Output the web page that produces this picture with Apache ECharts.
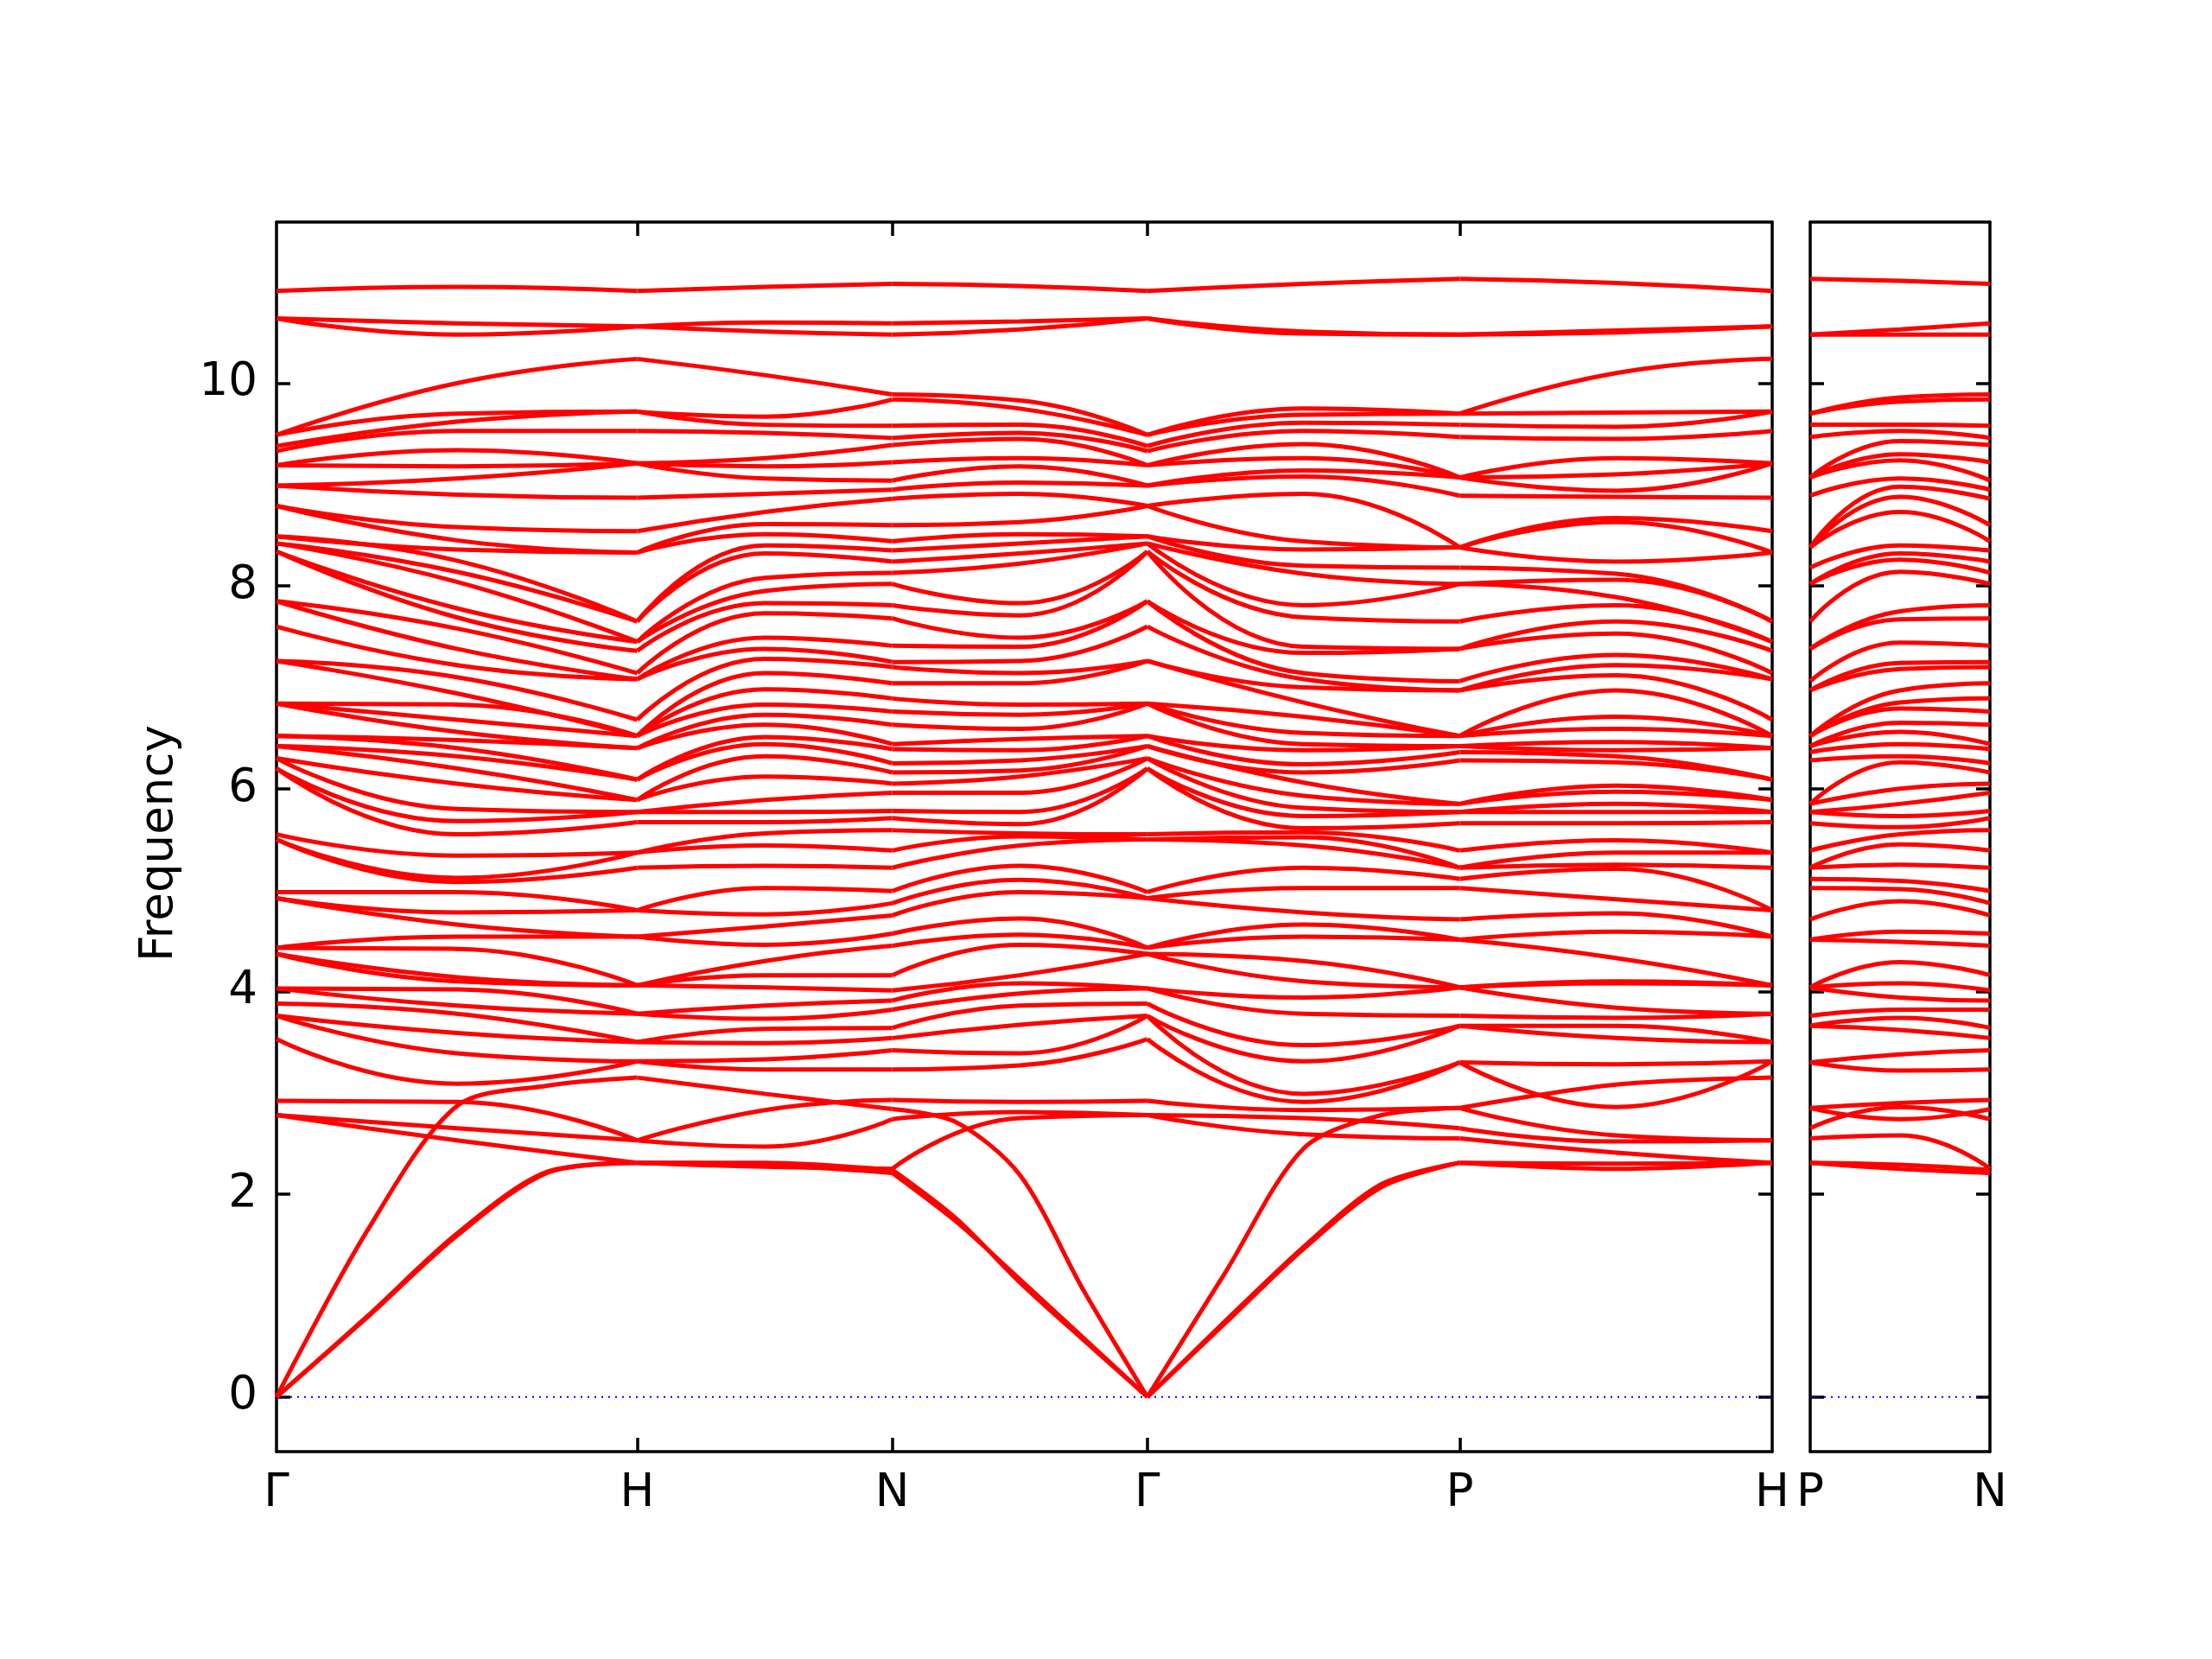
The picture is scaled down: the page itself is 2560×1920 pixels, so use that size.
<!DOCTYPE html>
<html><head><meta charset="utf-8">
<script src="https://cdn.jsdelivr.net/npm/echarts@6/dist/echarts.min.js"></script>
<style>html,body{margin:0;padding:0;background:#fff}#c{width:2560px;height:1920px}</style>
</head><body><div id="c"></div>
<script>
// ---- k-path positions (cumulative distance, bcc path) ----
const kMain = [0, 0.5, 1, 1.3536, 1.7071, 2.0607, 2.4142, 2.8472, 3.2802, 3.7133, 4.1463];
const kPanel = [0, 0.25, 0.5];
const kAcoustic = [0, 0.25, 0.5, 0.75, 1, 1.3536, 1.7071, 1.8839, 2.0607, 2.2374, 2.4142, 2.6307, 2.8472, 3.0637, 3.2802, 3.7133, 4.1463];
const kTicks = [0, 1, 1.7071, 2.4142, 3.2802, 4.1463];
const kTickLabels = ['Γ', 'H', 'N', 'Γ', 'P', 'H'];
const panelTicks = [0, 0.5];
const panelTickLabels = ['P', 'N'];
const yTicks = [0, 2, 4, 6, 8, 10];

// ---- optical band frequencies (sorted) at each sampled k-point ----
const colGamma = [2.78,2.78,2.92,3.53,3.76,3.76,3.88,4.03,4.03,4.37,4.37,4.43,4.43,4.92,4.92,4.98,5.50,5.50,5.55,
  6.20,6.20,6.30,6.30,6.42,6.42,6.52,6.52,6.84,6.84,6.84,7.26,7.26,7.60,7.85,7.85,8.34,8.34,8.42,8.42,8.49,8.49,8.79,8.79,8.99,8.99,9.19,9.19,9.33,9.38,9.49,9.49,
  10.64,10.64,10.91];
const colGH = [2.53,2.65,2.91,3.09,3.39,3.59,3.78,3.86,4.02,4.10,4.14,4.42,4.54,4.66,4.78,4.98,5.08,5.12,5.34,
  5.55,5.68,5.80,6.05,6.20,6.32,6.40,6.48,6.56,6.68,6.83,6.94,7.10,7.22,7.38,7.58,7.69,7.78,8.04,8.14,8.25,8.36,8.45,8.58,8.90,9.06,9.18,9.34,9.53,9.62,9.70,10.00,
  10.48,10.59,10.95];
const colH = [2.31,2.53,2.53,3.31,3.31,3.50,3.50,3.78,3.78,4.06,4.06,4.06,4.54,4.54,4.80,4.80,5.22,5.37,5.37,
  5.67,5.77,5.77,5.89,5.89,6.09,6.09,6.40,6.40,6.52,6.52,6.52,6.68,7.08,7.08,7.14,7.36,7.45,7.45,7.65,7.65,8.33,8.33,8.54,8.87,9.21,9.21,9.21,9.53,9.72,9.72,10.24,
  10.56,10.56,10.91];
const colHN = [2.27,2.47,2.83,3.23,3.33,3.49,3.63,3.73,3.86,4.04,4.16,4.30,4.46,4.64,4.76,5.02,5.24,5.44,5.56,
  5.67,5.77,5.89,6.12,6.32,6.44,6.51,6.63,6.73,6.83,6.98,7.14,7.28,7.38,7.49,7.73,7.83,7.95,8.08,8.32,8.40,8.51,8.61,8.73,8.91,9.06,9.18,9.26,9.51,9.59,9.67,10.08,
  10.51,10.60,10.95];
const colN = [2.25,2.74,2.93,3.23,3.42,3.54,3.64,3.82,3.91,4.01,4.16,4.45,4.57,4.75,4.87,4.99,5.22,5.39,5.59,
  5.71,5.78,5.96,6.05,6.16,6.25,6.39,6.44,6.63,6.76,6.89,7.04,7.20,7.25,7.41,7.68,7.81,8.02,8.13,8.24,8.35,8.44,8.60,8.86,8.95,9.04,9.22,9.39,9.46,9.58,9.84,9.89,
  10.48,10.59,10.98];
const colNG = [2.75,2.81,2.91,3.27,3.39,3.67,3.86,3.98,4.08,4.16,4.46,4.56,4.72,4.98,5.10,5.24,5.44,5.53,5.56,
  5.65,5.77,5.96,6.12,6.18,6.28,6.38,6.49,6.59,6.73,6.83,7.04,7.14,7.26,7.40,7.49,7.71,7.83,8.22,8.32,8.42,8.51,8.63,8.91,9.02,9.18,9.26,9.45,9.51,9.59,9.75,9.83,
  10.53,10.61,10.96];
const colGP = [2.59,2.75,2.83,2.91,2.99,3.31,3.47,3.78,3.94,4.10,4.30,4.54,4.66,4.78,5.02,5.22,5.44,5.52,5.57,
  5.61,5.73,5.81,5.93,6.06,6.16,6.24,6.38,6.44,6.55,6.71,6.85,7.00,7.08,7.14,7.34,7.40,7.69,7.81,8.12,8.20,8.36,8.44,8.91,9.08,9.14,9.26,9.40,9.53,9.61,9.69,9.75,
  10.49,10.51,10.98];
const colP = [2.55,2.65,2.85,3.30,3.30,3.66,3.66,3.76,4.04,4.04,4.04,4.51,4.51,4.71,5.02,5.11,5.22,5.22,5.39,
  5.66,5.77,5.77,5.85,5.85,6.28,6.36,6.42,6.42,6.52,6.52,6.52,6.97,6.97,7.06,7.38,7.38,7.65,8.02,8.02,8.18,8.38,8.38,8.38,8.89,9.07,9.07,9.07,9.47,9.59,9.70,9.70,
  10.48,10.48,11.03];
const colPH = [2.41,2.52,2.58,2.86,3.28,3.54,3.66,3.74,3.84,4.08,4.10,4.33,4.59,4.77,4.91,5.21,5.25,5.37,5.49,
  5.66,5.77,5.85,5.97,6.03,6.26,6.32,6.38,6.46,6.59,6.71,6.97,7.12,7.22,7.32,7.53,7.65,7.81,7.89,8.06,8.12,8.24,8.63,8.67,8.88,8.94,9.10,9.26,9.45,9.57,9.71,10.10,
  10.50,10.52,10.99];
const colPN = [2.58,2.86,2.90,3.22,3.38,3.62,3.74,3.82,3.94,4.08,4.29,4.49,4.59,4.89,5.01,5.09,5.25,5.45,5.55,
  5.62,5.73,5.85,6.00,6.26,6.32,6.44,6.56,6.65,6.79,6.85,6.97,7.18,7.24,7.44,7.67,7.75,8.14,8.26,8.32,8.40,8.73,8.88,8.98,9.06,9.24,9.30,9.43,9.53,9.59,9.82,9.86,
  10.48,10.53,11.01];

// ---- acoustic branches (on kAcoustic grid) ----
const acA = [0, 0.78, 1.59, 2.21, 2.31, 2.29, 2.21, 1.73, 1.16, 0.58, 0, 0.73, 1.46, 2.07, 2.31, 2.25, 2.31];
const acB = [0, 0.79, 1.61, 2.22, 2.31, 2.31, 2.24, 1.76, 1.13, 0.56, 0, 0.75, 1.48, 2.10, 2.31, 2.30, 2.31];
const acC = [0, 1.63, 2.87, 3.07, 3.15, 2.99, 2.84, 2.71, 2.19, 1.05, 0, 1.23, 2.45, 2.78, 2.85, 3.08, 3.15];
const acAp = [2.31, 2.25, 2.21];
const acBp = [2.31, 2.29, 2.24];
const acCp = [2.85, 2.74, 2.84];

// ---- build ----
const mainCols = [colGamma, colGH, colH, colHN, colN, colNG, colGamma, colGP, colP, colPH, colH];
const panelCols = [colP, colPN, colN];
const acSegs = [[0,4],[4,6],[6,10],[10,14],[14,16]];
const FONT = 'DejaVu Sans';
const RED = '#ff0000';
const LW = 5;

function bandSeries(data, xi, yi, sm) {
  return { type:'line', xAxisIndex:xi, yAxisIndex:yi, data:data, symbol:'none', showSymbol:false,
    smooth:sm, silent:true, animation:false, z:3,
    lineStyle:{color:RED, width:LW} };
}
const series = [];
// zero lines
series.push({type:'line', xAxisIndex:0, yAxisIndex:0, data:[[kMain[0],0],[kMain[kMain.length-1],0]], symbol:'none', silent:true, animation:false, z:2,
  lineStyle:{color:'#0000ff', width:2, type:[2,6]}});
series.push({type:'line', xAxisIndex:2, yAxisIndex:2, data:[[kPanel[0],0],[kPanel[2],0]], symbol:'none', silent:true, animation:false, z:2,
  lineStyle:{color:'#0000ff', width:2, type:[2,6]}});
const nb = colGamma.length;
for (let b = 0; b < nb; b++) {
  for (let s = 0; s < 5; s++) {
    const d = [];
    for (let j = 2*s; j <= 2*s+2; j++) d.push([kMain[j], mainCols[j][b]]);
    series.push(bandSeries(d, 0, 0, 0.5));
  }
  series.push(bandSeries([0,1,2].map(j => [kPanel[j], panelCols[j][b]]), 2, 2, 0.5));
}
[acA, acB, acC].forEach(ac => {
  acSegs.forEach(([a, e]) => {
    const d = [];
    for (let j = a; j <= e; j++) d.push([kAcoustic[j], ac[j]]);
    series.push(bandSeries(d, 0, 0, 0.3));
  });
});
[acAp, acBp, acCp].forEach(ac => {
  series.push(bandSeries([0,1,2].map(j => [kPanel[j], ac[j]]), 2, 2, 0.5));
});

function lab(ticks, labels) {
  return function (v) {
    for (let i = 0; i < ticks.length; i++) if (Math.abs(ticks[i] - v) < 1e-3) return labels[i];
    return '';
  };
}
const axisLineStyle = {show:true, onZero:false, lineStyle:{color:'#000', width:3.5}};
const tickStyle = {color:'#000', width:3.5};
const labelBase = {color:'#000', fontSize:53, fontFamily:FONT, showMinLabel:true, showMaxLabel:true, hideOverlap:false};
const YMIN = -0.54, YMAX = 11.59;

const option = {
  backgroundColor:'#fff',
  animation:false,
  grid:[
    {left:320, top:257, width:1731, height:1423, containLabel:false},
    {left:2095, top:257, width:208, height:1423, containLabel:false}
  ],
  xAxis:[
    {gridIndex:0, type:'value', position:'bottom', min:kTicks[0], max:kTicks[kTicks.length-1],
      axisLine:axisLineStyle,
      axisTick:{show:true, inside:true, length:16, lineStyle:tickStyle, customValues:kTicks.slice(1,-1)},
      axisLabel:Object.assign({show:true, margin:23, customValues:kTicks, formatter:lab(kTicks, kTickLabels)}, labelBase),
      splitLine:{show:false}},
    {gridIndex:0, type:'value', position:'top', min:kTicks[0], max:kTicks[kTicks.length-1],
      axisLine:axisLineStyle,
      axisTick:{show:true, inside:true, length:16, lineStyle:tickStyle, customValues:kTicks.slice(1,-1)},
      axisLabel:{show:false}, splitLine:{show:false}},
    {gridIndex:1, type:'value', position:'bottom', min:panelTicks[0], max:panelTicks[1],
      axisLine:axisLineStyle,
      axisTick:{show:false},
      axisLabel:Object.assign({show:true, margin:23, customValues:panelTicks, formatter:lab(panelTicks, panelTickLabels)}, labelBase),
      splitLine:{show:false}},
    {gridIndex:1, type:'value', position:'top', min:panelTicks[0], max:panelTicks[1],
      axisLine:axisLineStyle, axisTick:{show:false}, axisLabel:{show:false}, splitLine:{show:false}}
  ],
  yAxis:[
    {gridIndex:0, type:'value', position:'left', min:YMIN, max:YMAX,
      axisLine:axisLineStyle,
      axisTick:{show:true, inside:true, length:16, lineStyle:tickStyle, customValues:yTicks},
      axisLabel:Object.assign({show:true, margin:22, customValues:yTicks}, labelBase),
      splitLine:{show:false}},
    {gridIndex:0, type:'value', position:'right', min:YMIN, max:YMAX,
      axisLine:axisLineStyle,
      axisTick:{show:true, inside:true, length:16, lineStyle:tickStyle, customValues:yTicks},
      axisLabel:{show:false}, splitLine:{show:false}},
    {gridIndex:1, type:'value', position:'left', min:YMIN, max:YMAX,
      axisLine:axisLineStyle,
      axisTick:{show:true, inside:true, length:16, lineStyle:tickStyle, customValues:yTicks},
      axisLabel:{show:false}, splitLine:{show:false}},
    {gridIndex:1, type:'value', position:'right', min:YMIN, max:YMAX,
      axisLine:axisLineStyle,
      axisTick:{show:true, inside:true, length:16, lineStyle:tickStyle, customValues:yTicks},
      axisLabel:{show:false}, splitLine:{show:false}}
  ],
  graphic:[
    {type:'text', x:185, y:976, rotation:Math.PI/2, silent:true,
      style:{text:'Frequency', fill:'#000', font:'53px "' + FONT + '"', align:'center', verticalAlign:'middle'}}
  ],
  series:series
};
const chart = echarts.init(document.getElementById('c'), null, {renderer:'canvas', width:2560, height:1920});
chart.setOption(option);
</script>
</body></html>
